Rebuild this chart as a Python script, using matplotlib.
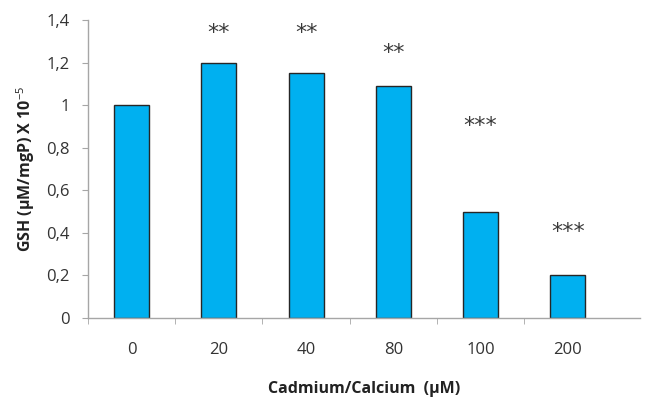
import numpy as np
import matplotlib.pyplot as plt
from matplotlib.ticker import FixedLocator, NullFormatter

plt.rcParams['font.family'] = ['Open Sans', 'DejaVu Sans']
plt.rcParams['mathtext.fontset'] = 'custom'
plt.rcParams['mathtext.rm'] = 'Open Sans'
plt.rcParams['mathtext.bf'] = 'Open Sans:bold'

# data
doses = ['0', '20', '40', '80', '100', '200']
gsh = [1.0, 1.2, 1.15, 1.09, 0.5, 0.2]
stars = ['', '**', '**', '**', '***', '***']
star_y = [0, 1.34, 1.34, 1.245, 0.9, 0.405]
y_ticks = [0, 0.2, 0.4, 0.6, 0.8, 1.0, 1.2, 1.4]
y_tick_labels = ['0', '0,2', '0,4', '0,6', '0,8', '1', '1,2', '1,4']

fig = plt.figure(figsize=(6.46, 3.97), dpi=100)
ax = fig.add_axes([0.1362, 0.199, 0.855, 0.7506])

x = np.arange(len(doses))
ax.bar(x, gsh, width=0.4, color='#00B0F0', edgecolor='#262626', linewidth=1.0)

for xi, s, sy in zip(x, stars, star_y):
    if s:
        ax.text(xi, sy, s, ha='center', va='center', fontsize=16,
                family='DejaVu Sans', color='#3a3a3a')

ax.set_xlim(-0.5, 5.83)
ax.set_ylim(0, 1.4)
ax.set_yticks(y_ticks)
ax.set_yticklabels(y_tick_labels)

# category labels centered, tick marks on category boundaries
ax.set_xticks(x)
ax.set_xticklabels(doses)
ax.tick_params(axis='x', which='major', length=0, pad=17)
ax.xaxis.set_minor_locator(FixedLocator(np.arange(-0.5, len(doses) - 0.5, 1.0)))
ax.xaxis.set_minor_formatter(NullFormatter())
ax.tick_params(axis='x', which='minor', length=4.5, color='#a6a6a6', direction='out')
ax.tick_params(axis='y', length=4.5, color='#a6a6a6', direction='out', pad=8.5)
ax.tick_params(labelsize=12, labelcolor='#333333')

for side in ['top', 'right']:
    ax.spines[side].set_visible(False)
for side in ['left', 'bottom']:
    ax.spines[side].set_color('#a6a6a6')
    ax.spines[side].set_linewidth(1.0)

ax.set_xlabel('Cadmium/Calcium  (\u03bcM)', fontsize=11.5, fontweight='bold',
              color='#222222', labelpad=17)
ax.set_ylabel('GSH (\u03bcM/mgP) X 10$^{-5}$', fontsize=11.5, fontweight='bold',
              color='#222222', labelpad=7)

fig.savefig('out.png', dpi=100)
